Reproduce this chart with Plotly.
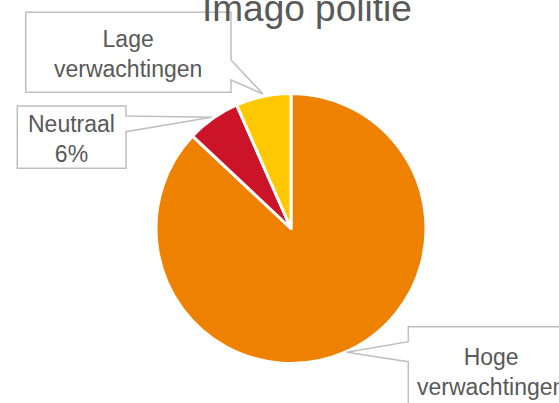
import plotly.graph_objects as go

labels = ["Hoge verwachtingen", "Neutraal", "Lage verwachtingen"]
values = [87.0, 6.4, 6.6]
colors = ["#EE8100", "#CC1428", "#FFC800"]
title_text = "Imago politie"
callout_texts = ["Lage<br>verwachtingen", "Neutraal<br>6%", "Hoge<br>verwachtingen"]

W, H = 559, 403
FONT = "Liberation Sans, Arial, sans-serif"
GRAY = "#595959"
BORDER = "#BFBFBF"


def px(x):
    return x / W


def py(y):
    return 1 - y / H


def path(points):
    pts = [f"{px(x):.5f},{py(y):.5f}" for x, y in points]
    return "M " + " L ".join(pts) + " Z"


fig = go.Figure(go.Pie(
    labels=labels, values=values, sort=False, direction="clockwise", rotation=0,
    marker=dict(colors=colors, line=dict(color="white", width=3)),
    textinfo="none", hoverinfo="label+percent",
    domain=dict(x=[px(291 - 135), px(291 + 135)], y=[py(363.5), py(93.5)]),
))

shapes = [
    dict(type="path", xref="paper", yref="paper",
         path=path([(25.7, 12.3), (231, 12.3), (231, 60), (263, 94), (231, 80), (231, 92.3), (25.7, 92.3)]),
         line=dict(color=BORDER, width=1.5), fillcolor="white", layer="above"),
    dict(type="path", xref="paper", yref="paper",
         path=path([(17.3, 106), (126, 106), (126, 116), (211.7, 117.3), (126, 131.7), (126, 168.3), (17.3, 168.3)]),
         line=dict(color=BORDER, width=1.5), fillcolor="white", layer="above"),
    dict(type="path", xref="paper", yref="paper",
         path=path([(408.3, 326.7), (575, 326.7), (575, 420), (408.3, 420), (408.3, 361.7), (346.7, 352.3), (408.3, 341.7)]),
         line=dict(color=BORDER, width=1.5), fillcolor="white", layer="above"),
]

annotations = [
    dict(text=title_text, x=px(307), y=py(9), xref="paper", yref="paper",
         xanchor="center", yanchor="middle", showarrow=False,
         font=dict(family=FONT, size=37, color=GRAY)),
    dict(text=callout_texts[0], x=px(128), y=py(54), xref="paper", yref="paper",
         xanchor="center", yanchor="middle", showarrow=False,
         font=dict(family=FONT, size=23, color=GRAY)),
    dict(text=callout_texts[1], x=px(71.7), y=py(139), xref="paper", yref="paper",
         xanchor="center", yanchor="middle", showarrow=False,
         font=dict(family=FONT, size=23, color=GRAY)),
    dict(text=callout_texts[2], x=px(491), y=py(372), xref="paper", yref="paper",
         xanchor="center", yanchor="middle", showarrow=False,
         font=dict(family=FONT, size=23, color=GRAY)),
]

fig.update_layout(
    width=W, height=H, margin=dict(l=0, r=0, t=0, b=0),
    paper_bgcolor="white", plot_bgcolor="white", showlegend=False,
    shapes=shapes, annotations=annotations,
)

fig.write_html(
    "out.html",
    config={"displayModeBar": False},
    post_script="document.body.style.margin='0';document.body.style.overflow='hidden';",
)
